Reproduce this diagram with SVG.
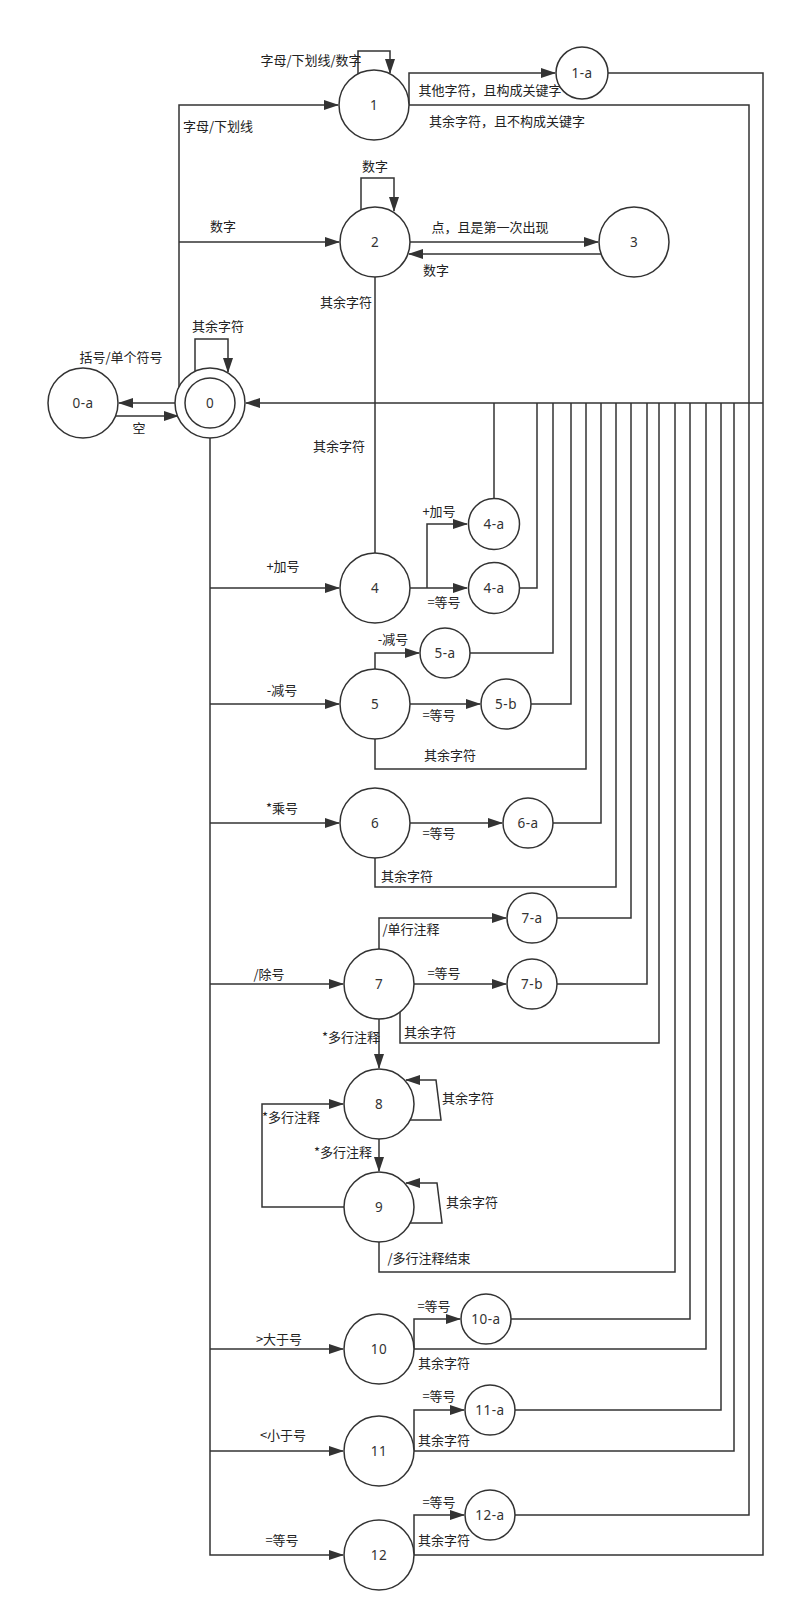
<svg xmlns="http://www.w3.org/2000/svg" width="794" height="1622" viewBox="0 0 794 1622">
<style>
.n{fill:#fff;stroke:#333;stroke-width:1.5}
.t{font-family:"Noto Sans","DejaVu Sans",sans-serif;font-size:13.5px;fill:#333;text-anchor:middle;letter-spacing:0.5px}
.c path{fill:none;stroke:#333;stroke-width:1.5}
.l{font-family:"Noto Sans CJK SC","Noto Sans",sans-serif;font-size:13px;fill:#222;text-anchor:middle}
</style>
<defs>
<marker id="a" markerWidth="15" markerHeight="10" refX="14" refY="5" orient="auto" markerUnits="userSpaceOnUse"><path d="M0,0 L15,5 L0,10 Z" fill="#333"/></marker>
</defs>
<rect width="794" height="1622" fill="#fff"/>
<g class="c" id="connectors">
<path d="M358,74 V51 H390 V73" marker-end="url(#a)"/>
<path d="M361,210 V178 H394 V211" marker-end="url(#a)"/>
<path d="M195,371 V339 H228 V372" marker-end="url(#a)"/>
<path d="M179,387 V105 H338" marker-end="url(#a)"/>
<path d="M179,242 H339" marker-end="url(#a)"/>
<path d="M409,105 V73 H555" marker-end="url(#a)"/>
<path d="M409,105 H749 V1515 H514"/>
<path d="M608,73 H763 V1555 H414"/>
<path d="M763,403 H246" marker-end="url(#a)"/>
<path d="M410,242 H598" marker-end="url(#a)"/>
<path d="M601,254 H409" marker-end="url(#a)"/>
<path d="M375,277 V553"/>
<path d="M175,403 H119" marker-end="url(#a)"/>
<path d="M116,416 H178" marker-end="url(#a)"/>
<path d="M210,438 V1555 H343" marker-end="url(#a)"/>
<path d="M210,588 H339" marker-end="url(#a)"/>
<path d="M210,704 H339" marker-end="url(#a)"/>
<path d="M210,823 H339" marker-end="url(#a)"/>
<path d="M210,984 H343" marker-end="url(#a)"/>
<path d="M210,1349 H343" marker-end="url(#a)"/>
<path d="M210,1451 H343" marker-end="url(#a)"/>
<path d="M410,588 H467" marker-end="url(#a)"/>
<path d="M427,588 V524 H467" marker-end="url(#a)"/>
<path d="M494,498 V403"/>
<path d="M519,588 H537 V403"/>
<path d="M375,669 V653 H419" marker-end="url(#a)"/>
<path d="M410,704 H480" marker-end="url(#a)"/>
<path d="M470,653 H553 V403"/>
<path d="M531,704 H571 V403"/>
<path d="M375,739 V769 H586 V403"/>
<path d="M410,823 H502" marker-end="url(#a)"/>
<path d="M553,823 H601 V403"/>
<path d="M375,858 V887 H616 V403"/>
<path d="M379,949 V918 H506" marker-end="url(#a)"/>
<path d="M414,984 H506" marker-end="url(#a)"/>
<path d="M557,918 H631 V403"/>
<path d="M557,984 H647 V403"/>
<path d="M400,1012 V1043 H659 V403"/>
<path d="M379,1019 V1068" marker-end="url(#a)"/>
<path d="M410,1120 H441 L436,1080 H406" marker-end="url(#a)"/>
<path d="M379,1139 V1171" marker-end="url(#a)"/>
<path d="M344,1207 H262 V1104 H343" marker-end="url(#a)"/>
<path d="M410,1223 H442 L437,1183 H406" marker-end="url(#a)"/>
<path d="M379,1242 V1272 H675 V403"/>
<path d="M414,1349 V1319 H460" marker-end="url(#a)"/>
<path d="M511,1319 H690 V403"/>
<path d="M414,1349 H706 V403"/>
<path d="M414,1451 V1410 H464" marker-end="url(#a)"/>
<path d="M514,1410 H721 V403"/>
<path d="M414,1451 H734 V403"/>
<path d="M414,1555 V1515 H464" marker-end="url(#a)"/>
</g>
<g id="labels">
<text class="l" x="311" y="65">字母/下划线/数字</text>
<text class="l" x="218" y="131">字母/下划线</text>
<text class="l" x="223" y="231">数字</text>
<text class="l" x="375" y="171">数字</text>
<text class="l" x="346" y="307">其余字符</text>
<text class="l" x="339" y="451">其余字符</text>
<text class="l" x="490" y="95">其他字符，且构成关键字</text>
<text class="l" x="507" y="126">其余字符，且不构成关键字</text>
<text class="l" x="490" y="232">点，且是第一次出现</text>
<text class="l" x="436" y="275">数字</text>
<text class="l" x="121" y="362">括号/单个符号</text>
<text class="l" x="139" y="433">空</text>
<text class="l" x="218" y="331">其余字符</text>
<text class="l" x="283" y="571">+加号</text>
<text class="l" x="439" y="516">+加号</text>
<text class="l" x="444" y="607">=等号</text>
<text class="l" x="393" y="644">-减号</text>
<text class="l" x="282" y="695">-减号</text>
<text class="l" x="439" y="720">=等号</text>
<text class="l" x="450" y="760">其余字符</text>
<text class="l" x="282" y="813">*乘号</text>
<text class="l" x="439" y="838">=等号</text>
<text class="l" x="407" y="881">其余字符</text>
<text class="l" x="411" y="934">/单行注释</text>
<text class="l" x="269" y="979">/除号</text>
<text class="l" x="444" y="978">=等号</text>
<text class="l" x="430" y="1037">其余字符</text>
<text class="l" x="351" y="1042">*多行注释</text>
<text class="l" x="468" y="1103">其余字符</text>
<text class="l" x="291" y="1122">*多行注释</text>
<text class="l" x="343" y="1157">*多行注释</text>
<text class="l" x="472" y="1207">其余字符</text>
<text class="l" x="429" y="1263">/多行注释结束</text>
<text class="l" x="434" y="1311">=等号</text>
<text class="l" x="279" y="1344">&gt;大于号</text>
<text class="l" x="444" y="1368">其余字符</text>
<text class="l" x="439" y="1401">=等号</text>
<text class="l" x="283" y="1440">&lt;小于号</text>
<text class="l" x="444" y="1445">其余字符</text>
<text class="l" x="439" y="1507">=等号</text>
<text class="l" x="282" y="1545">=等号</text>
<text class="l" x="444" y="1545">其余字符</text>
</g>
<g id="n0"><circle class="n" cx="210" cy="403" r="35"/><circle class="n" cx="210" cy="403" r="25"/><text class="t" x="210" y="408">0</text></g>
<g id="n0a"><circle class="n" cx="83" cy="403" r="35"/><text class="t" x="83" y="408">0-a</text></g>
<g id="n1"><circle class="n" cx="374" cy="105" r="35"/><text class="t" x="374" y="110">1</text></g>
<g id="n1a"><circle class="n" cx="582" cy="73" r="26"/><text class="t" x="582" y="78">1-a</text></g>
<g id="n2"><circle class="n" cx="375" cy="242" r="35"/><text class="t" x="375" y="247">2</text></g>
<g id="n3"><circle class="n" cx="634" cy="242" r="35"/><text class="t" x="634" y="247">3</text></g>
<g id="n4"><circle class="n" cx="375" cy="588" r="35"/><text class="t" x="375" y="593">4</text></g>
<g id="n4a1"><circle class="n" cx="494" cy="524" r="25.5"/><text class="t" x="494" y="529">4-a</text></g>
<g id="n4a2"><circle class="n" cx="494" cy="588" r="25.5"/><text class="t" x="494" y="593">4-a</text></g>
<g id="n5"><circle class="n" cx="375" cy="704" r="35"/><text class="t" x="375" y="709">5</text></g>
<g id="n5a"><circle class="n" cx="445" cy="653" r="25"/><text class="t" x="445" y="658">5-a</text></g>
<g id="n5b"><circle class="n" cx="506" cy="704" r="25"/><text class="t" x="506" y="709">5-b</text></g>
<g id="n6"><circle class="n" cx="375" cy="823" r="35"/><text class="t" x="375" y="828">6</text></g>
<g id="n6a"><circle class="n" cx="528" cy="823" r="25"/><text class="t" x="528" y="828">6-a</text></g>
<g id="n7"><circle class="n" cx="379" cy="984" r="35"/><text class="t" x="379" y="989">7</text></g>
<g id="n7a"><circle class="n" cx="532" cy="918" r="25"/><text class="t" x="532" y="923">7-a</text></g>
<g id="n7b"><circle class="n" cx="532" cy="984" r="25"/><text class="t" x="532" y="989">7-b</text></g>
<g id="n8"><circle class="n" cx="379" cy="1104" r="35"/><text class="t" x="379" y="1109">8</text></g>
<g id="n9"><circle class="n" cx="379" cy="1207" r="35"/><text class="t" x="379" y="1212">9</text></g>
<g id="n10"><circle class="n" cx="379" cy="1349" r="35"/><text class="t" x="379" y="1354">10</text></g>
<g id="n10a"><circle class="n" cx="486" cy="1319" r="25"/><text class="t" x="486" y="1324">10-a</text></g>
<g id="n11"><circle class="n" cx="379" cy="1451" r="35"/><text class="t" x="379" y="1456">11</text></g>
<g id="n11a"><circle class="n" cx="490" cy="1410" r="25"/><text class="t" x="490" y="1415">11-a</text></g>
<g id="n12"><circle class="n" cx="379" cy="1555" r="35"/><text class="t" x="379" y="1560">12</text></g>
<g id="n12a"><circle class="n" cx="490" cy="1515" r="25"/><text class="t" x="490" y="1520">12-a</text></g>
</svg>
